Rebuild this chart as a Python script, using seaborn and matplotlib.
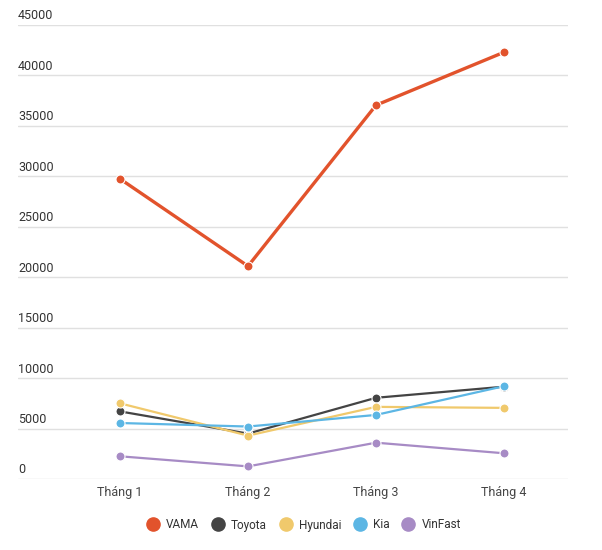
import matplotlib
matplotlib.use("Agg")
import matplotlib.pyplot as plt
import seaborn as sns
import pandas as pd
from matplotlib.lines import Line2D

# data
months = ["Tháng 1", "Tháng 2", "Tháng 3", "Tháng 4"]
brands = ["VAMA", "Toyota", "Hyundai", "Kia", "VinFast"]
vama = [29750, 21100, 37050, 42300]
toyota = [6700, 4500, 8050, 9150]
hyundai = [7500, 4300, 7150, 7050]
kia = [5550, 5200, 6350, 9200]
vinfast = [2250, 1250, 3600, 2550]
yticks = [0, 5000, 10000, 15000, 20000, 25000, 30000, 35000, 40000, 45000]

colors = {"VAMA": "#e2532c", "Toyota": "#444444", "Hyundai": "#f0c96c",
          "Kia": "#5cb6e4", "VinFast": "#a78bc5"}

series = {"VAMA": vama, "Toyota": toyota, "Hyundai": hyundai, "Kia": kia, "VinFast": vinfast}
rows = []
for b in brands:
    for m, v in zip(months, series[b]):
        rows.append({"month": m, "brand": b, "value": v})
df = pd.DataFrame(rows)

sns.set_style("white")
plt.rcParams["font.family"] = ["Roboto", "DejaVu Sans"]

fig = plt.figure(figsize=(6.02, 5.5), dpi=100)
ax = fig.add_axes([18 / 602, 1 - 479 / 550, 550 / 602, 454 / 550])

# later brands drawn on top, like the original
for b in brands:
    sub = df[df["brand"] == b]
    lw = 2.4 if b == "VAMA" else 1.6
    sns.lineplot(data=sub, x="month", y="value", ax=ax, color=colors[b], linewidth=lw,
                 marker="o", markersize=6.5, markeredgecolor="white", markeredgewidth=0.8,
                 sort=False, legend=False)

ax.set_xlim(-0.797, 3.5)
ax.set_ylim(0, 45000)
ax.set_yticks(yticks)
ax.set_yticklabels([])
ax.tick_params(axis="y", length=0)
ax.tick_params(axis="x", length=0, pad=5, labelsize=9, labelcolor="#444444")
ax.grid(axis="y", color="#e0e0e0", linewidth=1)
ax.set_axisbelow(True)
for s in ax.spines.values():
    s.set_visible(False)
ax.set_xlabel("")
ax.set_ylabel("")

for t in yticks:
    ax.text(0, t + 250, str(t), transform=ax.get_yaxis_transform(), ha="left", va="bottom",
            fontsize=9, color="#333333")

handles = [Line2D([0], [0], marker="o", linestyle="", markersize=9.5,
                  markerfacecolor=colors[b], markeredgecolor=colors[b]) for b in brands]
fig.legend(handles, brands, loc="center", bbox_to_anchor=(0.5, 1 - 525 / 550), ncol=5,
           frameon=False, fontsize=8.5, handletextpad=0.1, columnspacing=0.6,
           labelcolor="#333333")

fig.savefig("out.png", dpi=100)
